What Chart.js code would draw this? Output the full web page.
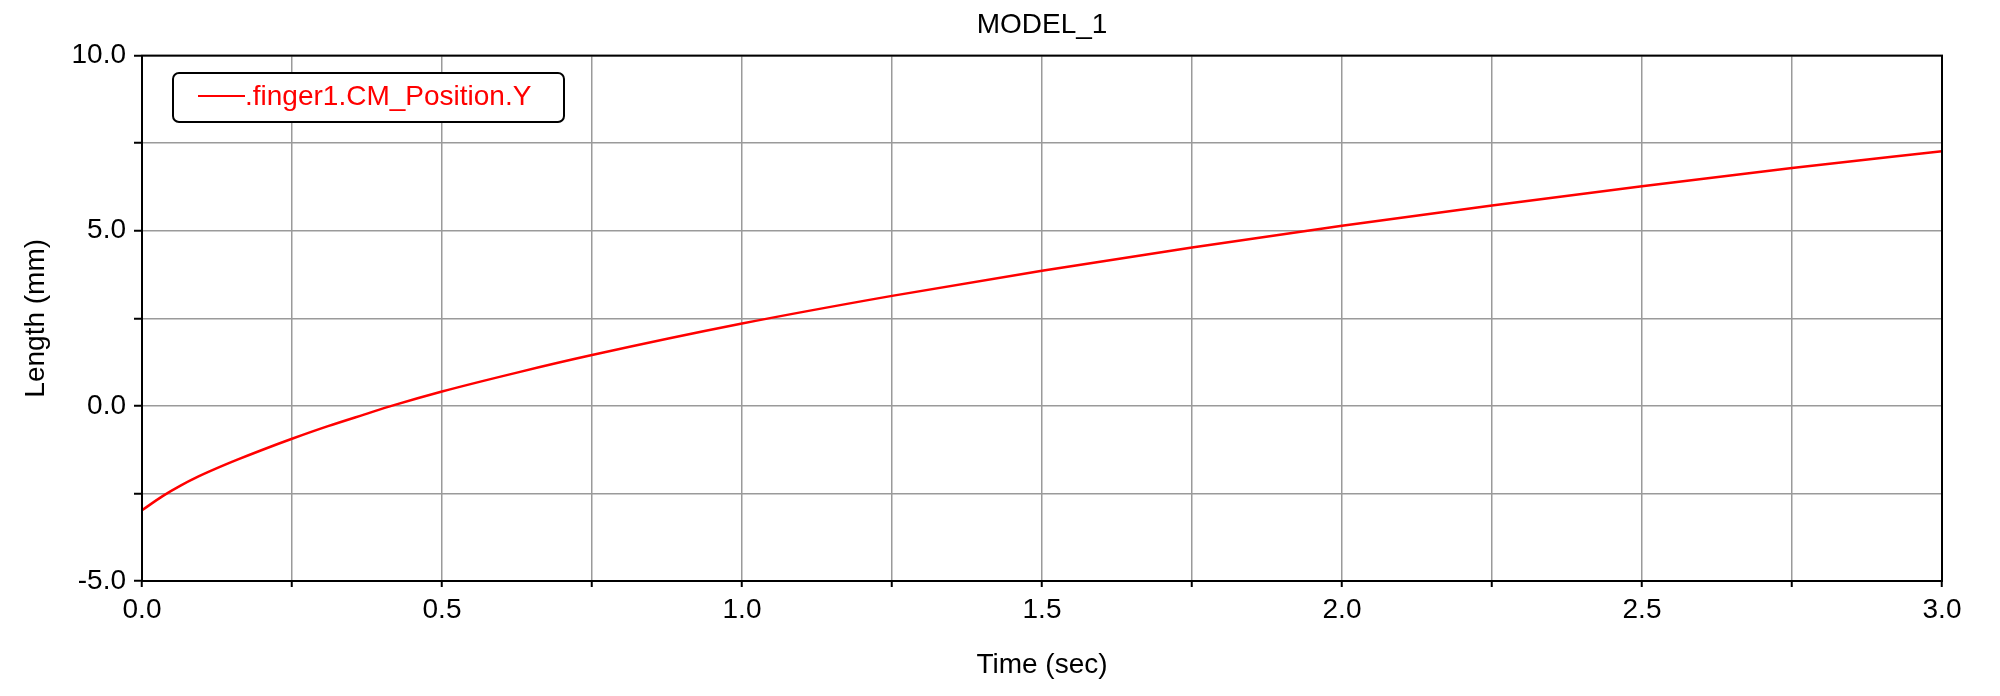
<!DOCTYPE html>
<html>
<head>
<meta charset="utf-8">
<script src="https://cdn.jsdelivr.net/npm/chart.js@4/dist/chart.umd.min.js"></script>
<style>
  html, body { margin: 0; padding: 0; background: #fff; }
  canvas { display: block; }
</style>
</head>
<body>
<canvas id="chart" width="2000" height="696"></canvas>
<script>
// values
var timeSec = [0, 0.035, 0.065, 0.09, 0.125, 0.16, 0.2, 0.25, 0.31, 0.37, 0.42, 0.5, 0.625,
               0.75, 1.0, 1.25, 1.5, 1.75, 2.0, 2.25, 2.5, 2.75, 3.0];
var lengthMm = [-2.98, -2.57, -2.27, -2.05, -1.78, -1.53, -1.26, -0.94, -0.58, -0.25, 0.02, 0.41, 0.95,
                1.45, 2.35, 3.14, 3.86, 4.52, 5.14, 5.72, 6.27, 6.79, 7.27];
var seriesName = '.finger1.CM_Position.Y';
var chartTitle = 'MODEL_1';
var xTitle = 'Time (sec)';
var yTitle = 'Length (mm)';

var FONT = '"Liberation Sans", Arial, Helvetica, sans-serif';
Chart.defaults.font.family = FONT;
Chart.defaults.color = '#000';

var points = timeSec.map(function(t, i) { return {x: t, y: lengthMm[i]}; });

function onStep(v, step) {
  var r = v / step;
  return Math.abs(r - Math.round(r)) < 1e-6;
}

// black frame around the plot area
var frame = {
  id: 'frame',
  afterDatasetsDraw: function(chart) {
    var a = chart.chartArea, ctx = chart.ctx;
    ctx.save();
    ctx.strokeStyle = '#000';
    ctx.lineWidth = 2;
    ctx.strokeRect(a.left, a.top, a.right - a.left, a.bottom - a.top);
    ctx.restore();
  }
};

// boxed legend sitting inside the plot, top left
var boxLegend = {
  id: 'boxLegend',
  afterDraw: function(chart) {
    var ctx = chart.ctx, ds = chart.data.datasets[0];
    var x = 173, y = 73, w = 391, h = 49, r = 6;
    ctx.save();
    ctx.beginPath();
    ctx.roundRect(x, y, w, h, r);
    ctx.fillStyle = '#fff';
    ctx.fill();
    ctx.lineWidth = 2;
    ctx.strokeStyle = '#000';
    ctx.stroke();
    ctx.beginPath();
    ctx.moveTo(198, 96);
    ctx.lineTo(245, 96);
    ctx.strokeStyle = ds.borderColor;
    ctx.lineWidth = 2;
    ctx.stroke();
    ctx.fillStyle = ds.borderColor;
    ctx.font = '28px ' + FONT;
    ctx.textBaseline = 'middle';
    ctx.textAlign = 'left';
    ctx.fillText(ds.label, 245, 97);
    ctx.restore();
  }
};

new Chart(document.getElementById('chart'), {
  type: 'line',
  data: {
    datasets: [{
      label: seriesName,
      data: points,
      borderColor: '#ff0000',
      borderWidth: 2.5,
      pointRadius: 0,
      fill: false,
      cubicInterpolationMode: 'monotone'
    }]
  },
  options: {
    responsive: false,
    animation: false,
    layout: { padding: { left: 0, right: 58, top: 0, bottom: 0 } },
    plugins: {
      legend: { display: false },
      tooltip: { enabled: false },
      title: {
        display: true,
        text: chartTitle,
        fullSize: false,
        color: '#000',
        font: { size: 28, weight: 'normal' },
        padding: { top: 8, bottom: 14 }
      }
    },
    scales: {
      x: {
        type: 'linear',
        min: 0,
        max: 3,
        afterFit: function(s) { s.height = 115; },
        ticks: {
          stepSize: 0.25,
          autoSkip: false,
          maxRotation: 0,
          padding: 6,
          color: '#000',
          font: { size: 28 },
          callback: function(v) { return onStep(v, 0.5) ? v.toFixed(1) : ''; }
        },
        grid: { color: '#9a9a9a', lineWidth: 1.5, tickLength: 6, tickColor: '#000', tickWidth: 2 },
        border: { display: true, color: '#000', width: 2 },
        title: { display: true, text: xTitle, color: '#000', font: { size: 28 }, padding: { top: 0, bottom: 14 } }
      },
      y: {
        min: -5,
        max: 10,
        afterFit: function(s) { s.width = 142; },
        ticks: {
          stepSize: 2.5,
          autoSkip: false,
          padding: 8,
          color: '#000',
          font: { size: 28 },
          callback: function(v) { return onStep(v, 5) ? v.toFixed(1) : ''; }
        },
        grid: { color: '#9a9a9a', lineWidth: 1.5, tickLength: 8, tickColor: '#000', tickWidth: 2 },
        border: { display: true, color: '#000', width: 2 },
        title: { display: true, text: yTitle, color: '#000', font: { size: 28 }, padding: { top: 19, bottom: 0 } }
      }
    }
  },
  plugins: [frame, boxLegend]
});
</script>
</body>
</html>
